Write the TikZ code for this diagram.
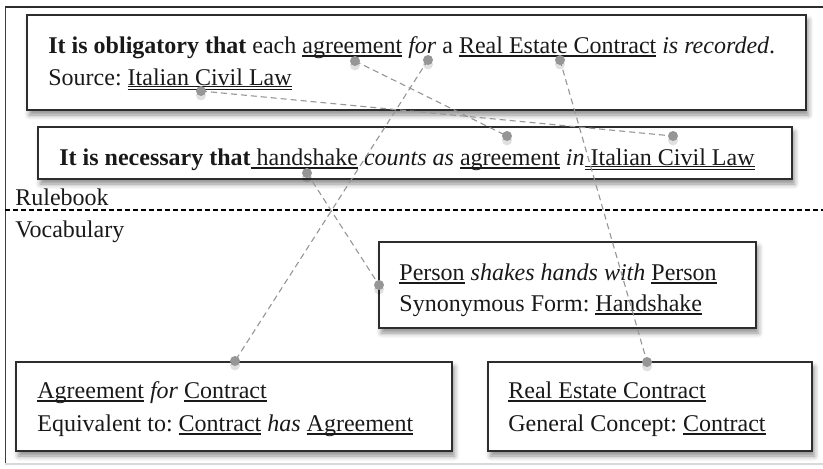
\documentclass[tikz,border=0pt]{standalone}
\usepackage{fontspec}
\setmainfont{Liberation Serif}
\usetikzlibrary{fit,shadows,shadows.blur}
\frenchspacing
\definecolor{conn}{RGB}{150,150,150}
\definecolor{boxline}{RGB}{45,45,45}
\newcommand\ulone[1]{\setbox0\hbox{#1}\rlap{\rule[-1.8pt]{\wd0}{0.9pt}}\box0\relax}
\newcommand\ultwo[1]{\setbox0\hbox{#1}\rlap{\rule[-1.0pt]{\wd0}{0.45pt}}\rlap{\rule[-2.3pt]{\wd0}{0.45pt}}\box0\relax}
\tikzset{
  framebox/.style={draw=boxline, line width=0.75pt, fill=white, inner sep=0pt,
    blur shadow={shadow xshift=1.2pt, shadow yshift=-2.5pt, shadow blur radius=2.5pt, shadow opacity=45}},
  txt/.style={anchor=base west, inner sep=0pt, font=\fontsize{12}{14}\selectfont\frenchspacing, text=black!90},
  dotnode/.style={circle, fill=conn, inner sep=0pt, minimum size=5pt,
    general shadow={shadow xshift=0pt, shadow yshift=-2.2pt, fill=black, opacity=0.12, scale=1.1}},
  link/.style={draw=conn, line width=0.55pt, dash pattern=on 3pt off 2pt},
  sep/.style={draw=black, line width=0.6pt, dash pattern=on 2.5pt off 1.5pt}
}
\begin{document}
\begin{tikzpicture}[x=0.5pt,y=-0.5pt]
\useasboundingbox (0,0) rectangle (823,468);
% outer frame
\coordinate (ftl) at (5,7);
\coordinate (ftr) at (823,7);
\coordinate (fbl) at (5,464);
\coordinate (fbr) at (823,464);
\draw[draw=black!50!gray, line width=0.5pt] (ftl) -- (fbl);
\draw[draw=black!15, line width=0.6pt] (fbl) -- (fbr);
\draw[draw=boxline, line width=1pt] (ftl) -- (ftr);
% separator
\coordinate (sl) at (5,210);
\coordinate (sr) at (823,210);
\draw[sep] (sl) -- (sr);
\node[txt] (rulebook) at (15,205) {Rulebook};
\node[txt] (vocab) at (15,237) {Vocabulary};
% boxes
\node[framebox, fit={(27,15) (806,110)}] (b1) {};
\node[framebox, fit={(38,127) (792,179)}] (b2) {};
\node[framebox, fit={(379,242) (756,328)}] (b3) {};
\node[framebox, fit={(16,362) (452,451)}] (b4) {};
\node[framebox, fit={(488,362) (812,451)}] (b5) {};
% texts
\node[txt] (b1a) at (48,53) {\textbf{It is obligatory that} each \ulone{agreement} \textit{for} a \ulone{Real Estate Contract} \textit{is recorded}.};
\node[txt] (b1b) at (48,85) {Source: \ultwo{Italian Civil Law}};
\node[txt] (b2a) at (59,165) {\textbf{It is necessary that}\ulone{ handshake} \textit{counts as} \ulone{agreement} \textit{in}\ultwo{ Italian Civil Law}};
\node[txt] (b3a) at (399,280) {\ulone{Person} \textit{shakes hands with} \ulone{Person}};
\node[txt] (b3b) at (399,311) {Synonymous Form: \ulone{Handshake}};
\node[txt] (b4a) at (37,398) {\ulone{Agreement} \textit{for} \ulone{Contract}};
\node[txt] (b4b) at (37,431) {Equivalent to: \ulone{Contract} \textit{has} \ulone{Agreement}};
\node[txt] (b5a) at (508,398) {\ulone{Real Estate Contract}};
\node[txt] (b5b) at (508,431) {General Concept: \ulone{Contract}};
% connectors
\coordinate (pAgr1) at (355,61);
\coordinate (pFor) at (428,60);
\coordinate (pRec) at (560,60);
\coordinate (pIcl1) at (201,91);
\coordinate (pAgr2) at (507,136);
\coordinate (pIcl2) at (673,136);
\coordinate (pHand) at (307,173);
\coordinate (pPers) at (379,285);
\coordinate (pAgrBox) at (235,361);
\coordinate (pRecBox) at (647,362);
\draw[link] (pAgr1) -- (pAgr2);
\draw[link] (pIcl1) -- (pIcl2);
\draw[link] (pFor) -- (pAgrBox);
\draw[link] (pRec) -- (pRecBox);
\draw[link] (pHand) -- (pPers);
\foreach \p in {pAgr1,pFor,pRec,pIcl1,pAgr2,pIcl2,pHand,pPers,pAgrBox,pRecBox}
  \node[dotnode] (d\p) at (\p) {};
\end{tikzpicture}
\end{document}
